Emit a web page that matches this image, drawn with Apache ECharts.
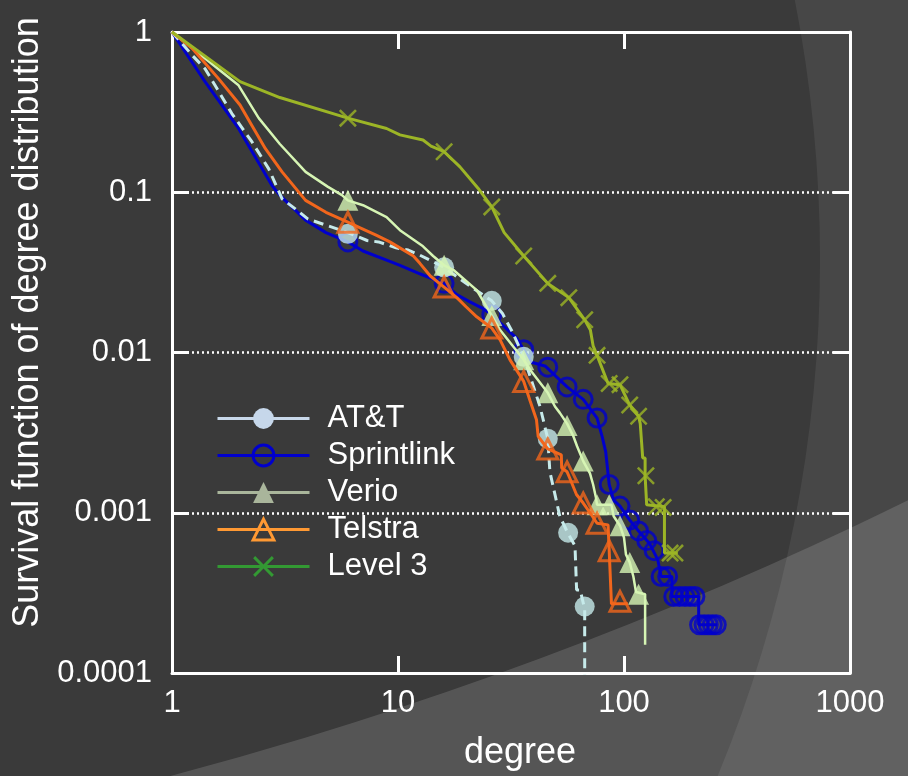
<!DOCTYPE html>
<html><head><meta charset="utf-8">
<script src="https://cdn.jsdelivr.net/npm/echarts@6/dist/echarts.min.js"></script>
<style>html,body{margin:0;padding:0;background:#3a3a3a;}#chart{width:908px;height:776px;}</style>
</head><body><div id="chart"></div>
<script>
// ---- data ----
const xTickLabels = ['1', '10', '100', '1000'];
const yTickLabels = ['0.0001', '0.001', '0.01', '0.1', '1'];
const seriesNames = ['AT&T', 'Sprintlink', 'Verio', 'Telstra', 'Level 3'];
const xAxisName = 'degree';
const yAxisName = 'Survival function of degree distribution';

const attLine = [[1,1],[1.23,0.715],[1.4,0.59],[1.55,0.465],[1.84,0.31],[2.26,0.206],[2.68,0.14],[3.07,0.091],[3.5,0.079],[4.0,0.068],[4.7,0.063],[6,0.056],[7.3,0.05],[8.2,0.049],[9.8,0.045],[11.1,0.0436],[12.5,0.0405],[16,0.034],[20,0.027],[26,0.021],[29,0.0175],[32,0.0135],[36,0.0094],[42.5,0.0046],[46,0.0029],[47,0.0018],[52,0.00095],[56.6,0.00074],[60.7,0.00062],[61.7,0.00033],[64,0.00033],[67,0.00025],[67,0.00003]];
const attMarks = [[6,0.055],[16,0.034],[26,0.021],[36,0.0094],[46,0.0029],[56.6,0.00075],[67,0.00026]];

const sprintLine = [[1,1],[1.4,0.49],[1.97,0.25],[2.77,0.11],[3.0,0.096],[3.9,0.067],[4.8,0.056],[6,0.049],[7,0.043],[9.2,0.037],[10.2,0.035],[12.5,0.031],[14,0.029],[16,0.027],[18.2,0.023],[20.8,0.0207],[23.8,0.0188],[26,0.0172],[31.3,0.0134],[33.5,0.0123],[36,0.0104],[39,0.0087],[45,0.0082],[50,0.0071],[56,0.0061],[66,0.0051],[76,0.0039],[80,0.003],[83,0.0024],[86,0.0015],[90,0.0012],[96,0.0011],[106,0.0009],[116,0.00077],[130,0.00064],[141,0.00051],[146,0.0004],[163,0.0004],[163,0.0003],[214,0.0003],[214,0.0002],[258,0.0002]];
const sprintMarks = [[6,0.049],[16,0.027],[26,0.0172],[36,0.0104],[46,0.0081],[56,0.0061],[66,0.0051],[76,0.0039],[86,0.0015],[96,0.0011],[106,0.0009],[116,0.00077],[126,0.00067],[136,0.00058],[146,0.0004],[156,0.0004],[166,0.0003],[176,0.0003],[186,0.0003],[196,0.0003],[206,0.0003],[216,0.0002],[226,0.0002],[236,0.0002],[246,0.0002],[256,0.0002]];

const verioLine = [[1,1],[1.97,0.465],[2.42,0.29],[3.0,0.2],[3.9,0.134],[4.9,0.108],[5.65,0.096],[6,0.089],[7,0.083],[8.9,0.07],[10.2,0.058],[12.9,0.046],[14.3,0.04],[16,0.035],[17.6,0.0327],[22.3,0.0245],[26,0.017],[28.3,0.0138],[36,0.009],[38.4,0.0078],[46,0.0056],[49.5,0.0046],[52,0.0042],[56,0.0036],[59.7,0.003],[62,0.0026],[66,0.0021],[70.7,0.00176],[73,0.0015],[75,0.00126],[76,0.00112],[88,0.00112],[90,0.00095],[96,0.00083],[100,0.0007],[102,0.00055],[106,0.00049],[110,0.0004],[113,0.00032],[124,0.00031],[124,0.00015]];
const verioMarks = [[6,0.089],[16,0.035],[26,0.017],[36,0.009],[46,0.0056],[56,0.0035],[66,0.0021],[76,0.00112],[86,0.00112],[96,0.00083],[106,0.00049],[116,0.00031]];

const telstraLine = [[1,1],[1.23,0.79],[1.61,0.51],[2.0,0.35],[2.26,0.26],[2.59,0.187],[3.07,0.134],[3.9,0.089],[4.8,0.075],[6,0.065],[6.8,0.06],[8,0.054],[9.2,0.049],[11.7,0.04],[12.5,0.036],[13.9,0.03],[16,0.0256],[18.2,0.022],[20,0.0193],[22.3,0.0167],[26,0.0142],[28.3,0.012],[31.3,0.009],[36,0.0066],[38.4,0.005],[41,0.0038],[41.7,0.003],[46,0.0025],[52.8,0.0023],[53,0.0019],[56,0.0018],[58,0.0016],[61.6,0.0013],[66,0.00115],[70.7,0.001],[76,0.00086],[85,0.00084],[86,0.00058],[88,0.00027],[104,0.00027]];
const telstraMarks = [[6,0.065],[16,0.0256],[26,0.0142],[36,0.0066],[46,0.0025],[56,0.0018],[66,0.00115],[76,0.00086],[86,0.00058],[96,0.00028]];

const level3Line = [[1,1],[2,0.49],[3,0.39],[6,0.29],[8.9,0.25],[10.2,0.228],[12.9,0.212],[14,0.194],[16,0.179],[18.8,0.144],[22.6,0.106],[26,0.081],[29.5,0.056],[36,0.04],[46,0.027],[57,0.022],[67,0.016],[71,0.0138],[73,0.011],[76,0.0096],[85,0.0064],[96,0.0063],[106,0.0047],[116,0.004],[118,0.0036],[121,0.0022],[124,0.0022],[124,0.0017],[126,0.00112],[151,0.00109],[151,0.00056],[173,0.00056]];
const level3Marks = [[6,0.29],[16,0.179],[26,0.081],[36,0.04],[46,0.027],[57,0.022],[67,0.016],[76,0.0096],[86,0.0064],[96,0.0063],[106,0.0047],[116,0.004],[125,0.0017],[139,0.00109],[149,0.00108],[160,0.00056],[168,0.00056]];

// ---- styling ----
const FONT = '"Liberation Sans", Arial, sans-serif';
const X_SYMBOL = 'path://M0,1L1,0L5,4L9,0L10,1L6,5L10,9L9,10L5,6L1,10L0,9L4,5Z';
const CLEAR = 'rgba(0,0,0,0)';

function lineSeries(name, data, color, width, dash, symbol, z) {
  return { name, type: 'line', data, symbol, showSymbol: false, z,
    lineStyle: { color, width, type: dash }, itemStyle: { color }, silent: true };
}
function markSeries(name, data, symbol, size, itemStyle, z) {
  return { name, type: 'scatter', data, symbol, symbolSize: size, itemStyle, z, silent: true };
}

const chart = echarts.init(document.getElementById('chart'), null, { renderer: 'canvas' });

const axisCommon = {
  type: 'log', logBase: 10,
  axisLine: { show: true, lineStyle: { color: '#ffffff', width: 3 } },
  axisTick: { show: true, inside: true, length: 17, lineStyle: { color: '#ffffff', width: 3 } },
  minorTick: { show: false }
};

chart.setOption({
  animation: false,
  backgroundColor: '#3a3a3a',
  graphic: [
    { type: 'ring', silent: true, z: -10, shape: { cx: -532, cy: 260, r: 3000, r0: 1352 }, style: { fill: 'rgba(255,255,255,0.065)' } },
    { type: 'ring', silent: true, z: -9, shape: { cx: -857, cy: -3096, r: 6000, r0: 4006 }, style: { fill: 'rgba(255,255,255,0.14)' } }
  ],
  grid: { left: 172, top: 32, width: 678, height: 641, containLabel: false },
  legend: {
    orient: 'vertical', left: 216, top: 403, padding: 0,
    itemWidth: 92, itemHeight: 26, itemGap: 6,
    textStyle: { color: '#ffffff', fontSize: 31, fontFamily: FONT, padding: [0, 0, 0, 13] },
    data: [
      { name: seriesNames[0], itemStyle: { color: '#c6d7ea', borderWidth: 0 }, lineStyle: { color: '#c8d8ea', width: 3, type: 'solid' } },
      { name: seriesNames[1], itemStyle: { color: CLEAR, borderColor: '#0000cc', borderWidth: 3 }, lineStyle: { color: '#0000cc', width: 3, type: 'solid' } },
      { name: seriesNames[2], itemStyle: { color: '#a9b59b', borderWidth: 0 }, lineStyle: { color: '#a9b59b', width: 3, type: 'solid' } },
      { name: seriesNames[3], itemStyle: { color: CLEAR, borderColor: '#ff9933', borderWidth: 3 }, lineStyle: { color: '#ff9933', width: 3, type: 'solid' } },
      { name: seriesNames[4], itemStyle: { color: '#339933', borderWidth: 0 }, lineStyle: { color: '#339933', width: 3, type: 'solid' } }
    ]
  },
  xAxis: [
    Object.assign({}, axisCommon, {
      position: 'bottom', min: 1, max: 1000,
      name: xAxisName, nameLocation: 'middle', nameGap: 62,
      nameTextStyle: { color: '#ffffff', fontSize: 36, fontFamily: FONT, padding: [0, 0, 0, 18] },
      axisLabel: { color: '#ffffff', fontSize: 31, fontFamily: FONT, margin: 15,
        formatter: v => xTickLabels[Math.round(Math.log10(v))] },
      splitLine: { show: false }
    }),
    Object.assign({}, axisCommon, {
      position: 'top', min: 1, max: 1000,
      axisLabel: { show: false }, splitLine: { show: false }
    })
  ],
  yAxis: [
    Object.assign({}, axisCommon, {
      position: 'left', min: 0.0001, max: 1,
      name: yAxisName, nameLocation: 'middle', nameGap: 120,
      nameTextStyle: { color: '#ffffff', fontSize: 36, fontFamily: FONT, padding: [0, 0, 0, 60] },
      axisLabel: { color: '#ffffff', fontSize: 31, fontFamily: FONT, margin: 20,
        formatter: v => yTickLabels[Math.round(Math.log10(v)) + 4] },
      splitLine: { show: true, lineStyle: { color: '#ffffff', width: 2.5, type: [2, 3] } }
    }),
    Object.assign({}, axisCommon, {
      position: 'right', min: 0.0001, max: 1,
      axisLabel: { show: false }, splitLine: { show: false }
    })
  ],
  series: [
    lineSeries(seriesNames[0], attLine, '#c6eaea', 3, [10, 6], 'circle', 3),
    lineSeries(seriesNames[1], sprintLine, '#0000cc', 3, 'solid', 'circle', 2),
    lineSeries(seriesNames[2], verioLine, '#d6f5b4', 2.5, 'solid', 'triangle', 4),
    lineSeries(seriesNames[3], telstraLine, '#f2661c', 3, 'solid', 'triangle', 5),
    lineSeries(seriesNames[4], level3Line, '#9cb526', 3, 'solid', X_SYMBOL, 6),
    markSeries(seriesNames[0], attMarks, 'circle', 20, { color: '#c6eaea' }, 3),
    markSeries(seriesNames[1], sprintMarks, 'circle', 18, { color: CLEAR, borderColor: '#0000cc', borderWidth: 3 }, 2),
    markSeries(seriesNames[2], verioMarks, 'triangle', 21, { color: '#d6f5b4' }, 4),
    markSeries(seriesNames[3], telstraMarks, 'triangle', 20, { color: CLEAR, borderColor: '#f2661c', borderWidth: 3 }, 5),
    markSeries(seriesNames[4], level3Marks, X_SYMBOL, 18, { color: '#9cb526' }, 6)
  ]
});
</script></body></html>
